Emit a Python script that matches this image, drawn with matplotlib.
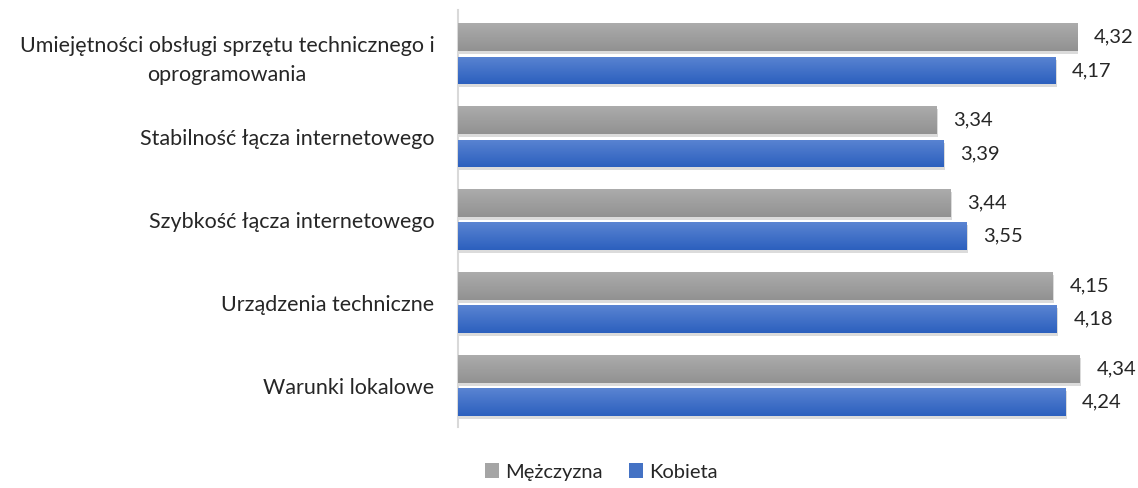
import matplotlib
matplotlib.use("Agg")
import matplotlib.pyplot as plt
import numpy as np
from matplotlib import patheffects as pe
from matplotlib.colors import LinearSegmentedColormap
from matplotlib.patches import Patch

categories = ["Umiejętności obsługi sprzętu technicznego i\noprogramowania",
              "Stabilność łącza internetowego",
              "Szybkość łącza internetowego",
              "Urządzenia techniczne",
              "Warunki lokalowe"]
men = [4.32, 3.34, 3.44, 4.15, 4.34]
women = [4.17, 3.39, 3.55, 4.18, 4.24]
series_names = ["Mężczyzna", "Kobieta"]

plt.rcParams['font.family'] = ['Lato', 'DejaVu Sans']

fig = plt.figure(figsize=(11.38, 4.88), dpi=100)
ax = fig.add_axes([458/1138, 1-427/488, 1-458/1138, (427-10)/488])

y = np.arange(len(categories))
off = 0.2
h = 0.335

grey_mid = "#A0A0A0"
blue_mid = "#4472C4"
grey_cmap = LinearSegmentedColormap.from_list("g", ["#ACACAC", "#919191"])
blue_cmap = LinearSegmentedColormap.from_list("b", ["#5A84D2", "#2C60BE"])

shadow = [pe.SimplePatchShadow(offset=(0.8, -2.2), shadow_rgbFace="#888888", alpha=0.3), pe.Normal()]
b1 = ax.barh(y - off, men, height=h, color=grey_mid, path_effects=shadow, zorder=2)
b2 = ax.barh(y + off, women, height=h, color=blue_mid, path_effects=shadow, zorder=2)

grad = np.linspace(0, 1, 64).reshape(-1, 1)
for bars, cmap in ((b1, grey_cmap), (b2, blue_cmap)):
    for p in bars:
        x0, y0 = p.get_x(), p.get_y()
        w, hh = p.get_width(), p.get_height()
        im = ax.imshow(grad, cmap=cmap, aspect='auto', extent=(x0, x0 + w, y0 + hh, y0),
                       zorder=3, interpolation='bilinear')
        im.set_clip_path(p)

for vals, dy in ((men, -off), (women, off)):
    for i, v in enumerate(vals):
        ax.annotate(f"{v:.2f}".replace(".", ","), (v, i + dy), xytext=(12, 0),
                    textcoords="offset points", va="center", ha="left",
                    fontsize=14.5, color="#262626")

ax.set_xlim(0, (1138 - 458) / 143.3)
ax.set_ylim(4.5, -0.53)
ax.set_yticks(y)
ax.set_yticklabels(categories, fontsize=15.5, color="#262626", multialignment="center")
for t in ax.get_yticklabels():
    t.set_linespacing(1.55)
ax.tick_params(axis='y', length=0, pad=17)
ax.set_xticks([])
for s in ["top", "right", "bottom"]:
    ax.spines[s].set_visible(False)
ax.spines["left"].set_color("#D9D9D9")
ax.spines["left"].set_linewidth(1.5)

handles = [Patch(facecolor="#A5A5A5"), Patch(facecolor="#4472C4")]
fig.legend(handles, series_names, loc="center", bbox_to_anchor=(601/1138, 1-472/488),
           ncol=2, frameon=False, fontsize=14.5, handlelength=0.7, handleheight=0.7,
           handletextpad=0.3, columnspacing=1.3, labelcolor="#262626")

fig.savefig("out.png", dpi=100)
